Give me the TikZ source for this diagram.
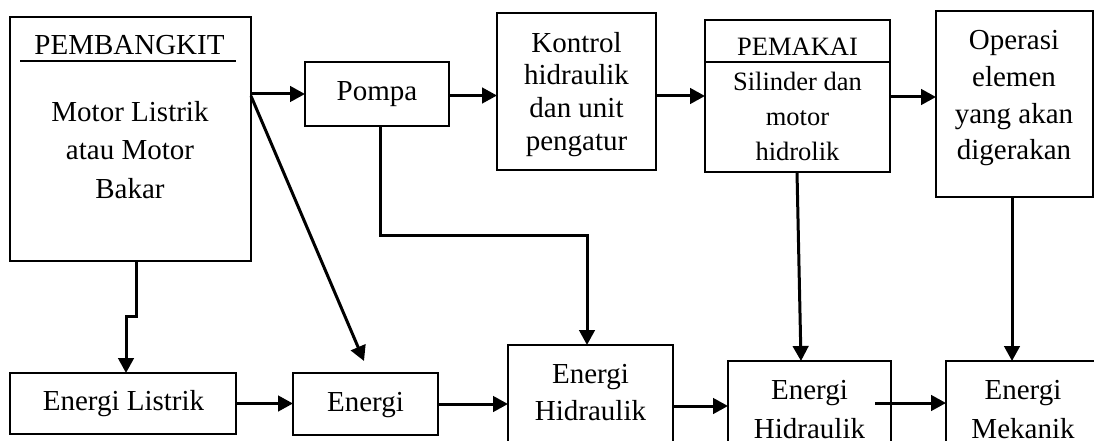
\documentclass[tikz,border=0pt]{standalone}
\usepackage{fontspec}
\setmainfont{Liberation Serif}
\usetikzlibrary{arrows.meta,calc}
\begin{document}
\begin{tikzpicture}[x=1pt,y=-1pt,
  box/.style={draw, line width=2.3pt, rectangle, inner sep=0pt, outer sep=0pt},
  txt/.style={inner sep=0pt, outer sep=0pt, align=center, font=\fontsize{29}{33}\selectfont},
  smalltxt/.style={inner sep=0pt, outer sep=0pt, align=center, font=\fontsize{26.5}{35}\selectfont},
  conn/.style={line width=3pt, -{Triangle[length=15pt,width=15.5pt]}},
  rule/.style={line width=2.3pt}
]
\useasboundingbox (0,0) rectangle (1094,441);
\clip (0,0) rectangle (1094,441);

% ---------- top row ----------
\node[box, minimum width=241pt, minimum height=244pt] (pem) at (130.5,139) {};
\node[txt, anchor=base] (pemtitle) at (129.5,55) {PEMBANGKIT};
\coordinate (ulL) at (20,61);
\coordinate (ulR) at (236,61);
\draw[rule] (ulL) -- (ulR);
\node[txt, font=\fontsize{29}{38.5}\selectfont] (pembody) at (130,149.6) {Motor Listrik\\atau Motor\\Bakar};

\node[box, minimum width=144pt, minimum height=64pt] (pompa) at (377,94) {};
\node[txt] (pompat) at (377,94) {Pompa};

\node[box, minimum width=159pt, minimum height=157pt] (kontrol) at (576.5,91.5) {};
\node[txt, font=\fontsize{29}{32.7}\selectfont] (kontrolt) at (576.5,94.3) {Kontrol\\hidraulik\\dan unit\\pengatur};

\node[box, minimum width=185pt, minimum height=152pt] (pemakai) at (797.5,96) {};
\coordinate (pdiv) at (0,62);
\draw[rule] (pemakai.west |- pdiv) -- (pemakai.east |- pdiv);
\node[smalltxt, anchor=base] (pemakait) at (797.5,56) {PEMAKAI};
\node[smalltxt] (pemakaib) at (797.5,116) {Silinder dan\\motor\\hidrolik};

\node[box, minimum width=157pt, minimum height=186pt] (operasi) at (1014.5,104) {};
\node[txt, font=\fontsize{29}{36.7}\selectfont] (operasit) at (1014,98.4) {Operasi\\elemen\\yang akan\\digerakan};

% ---------- bottom row ----------
\node[box, minimum width=226pt, minimum height=61pt] (el) at (123,403.5) {};
\node[txt, anchor=base] (elt) at (123.5,410) {Energi Listrik};

\node[box, minimum width=145pt, minimum height=62pt] (energi) at (365.5,404) {};
\node[txt, anchor=base] (energit) at (365.5,411) {Energi};

\node[box, minimum width=165pt, minimum height=110pt] (eh1) at (590.5,400) {};
\node[txt, font=\fontsize{29}{37.5}\selectfont] (eh1t) at (590.5,392.6) {Energi\\Hidraulik};

\node[box, minimum width=163pt, minimum height=110pt] (eh2) at (809.5,416) {};
\node[txt, font=\fontsize{29}{39}\selectfont] (eh2t) at (809.5,409.6) {Energi\\Hidraulik};

\node[box, minimum width=160pt, minimum height=110pt] (mek) at (1026,416) {};
\node[txt, font=\fontsize{29}{39}\selectfont] (mekt) at (1023,409.6) {Energi\\Mekanik};

% ---------- connectors ----------
\draw[conn] (pem.east |- pompa) -- (pompa.west);
\coordinate (d0) at ($(pem.north east)+(0,79)$);
\coordinate (dtip) at (364,361);
\draw[conn] (d0) -- (dtip);
\draw[conn] ([yshift=-1.5pt]pompa.east) -- ([yshift=-1.5pt]pompa.east -| kontrol.west);
\draw[conn] ([yshift=-4.5pt]kontrol.east) -- ([yshift=-4.5pt]kontrol.east -| pemakai.west);
\draw[conn] ([yshift=-1pt]pemakai.east) -- ([yshift=-1pt]pemakai.east -| operasi.west);

\coordinate (j) at (126,316);
\draw[conn] ([xshift=5.5pt]pem.south) |- (j) -- (j |- el.north);

\draw[conn] (el.east) -- (el.east -| energi.west);
\draw[conn] (energi.east) -- (energi.east -| eh1.west);

\coordinate (pc) at (0,235);
\draw[conn] ([xshift=3pt]pompa.south) -- ([xshift=3pt]pompa.south |- pc) -| ([xshift=-3.5pt]eh1.north);

\draw[conn] ([yshift=-6pt]eh1.east) -- ([yshift=-6pt]eh1.east -| eh2.west);
\draw[conn] ([xshift=-0.5pt]pemakai.south) -- ([xshift=-8.5pt]eh2.north);

\coordinate (m0) at (875,403);
\draw[conn] (m0) -- (m0 -| mek.west);
\draw[conn] ([xshift=-2.5pt]operasi.south) -- ([xshift=-2.5pt]operasi.south |- mek.north);
\end{tikzpicture}
\end{document}
